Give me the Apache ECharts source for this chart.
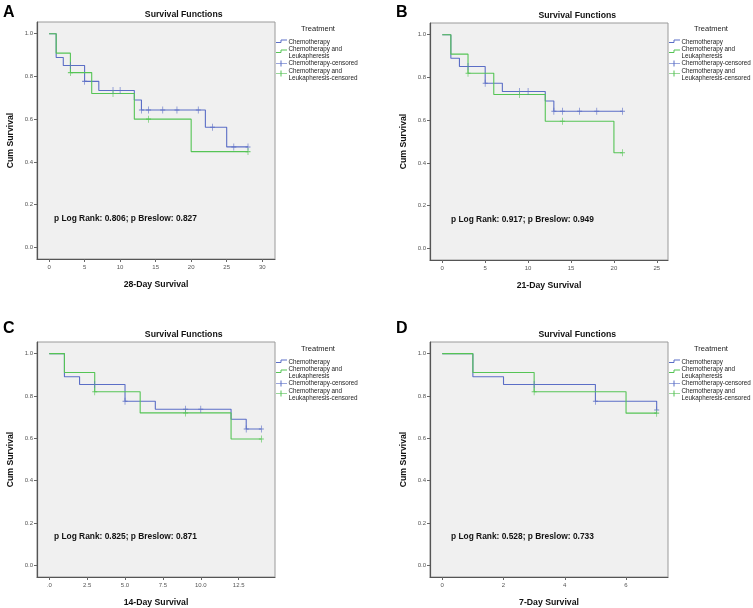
<!DOCTYPE html>
<html><head><meta charset="utf-8">
<script src="https://cdn.jsdelivr.net/npm/echarts@6/dist/echarts.min.js"></script>
<style>html,body{margin:0;padding:0;background:#fff}#c{width:753px;height:608px}</style>
</head><body><div id="c"></div>
<script>
// ---------- DATA ----------
const seriesNames = ['Chemotherapy', 'Chemotherapy and Leukapheresis', 'Chemotherapy-censored', 'Chemotherapy and Leukapheresis-censored'];
const yTicks = [0, 0.2, 0.4, 0.6, 0.8, 1.0];

// Panel A: 28-day
const aChemoT = [0, 1, 2, 5, 7, 12, 13, 22, 25, 28];
const aChemoS = [1, 0.889, 0.851, 0.777, 0.734, 0.690, 0.643, 0.562, 0.470, 0.470];
const aChemoCensT = [3, 5, 9, 10, 13, 14, 16, 18, 21, 23, 26, 28];
const aChemoCensS = [0.851, 0.777, 0.734, 0.734, 0.643, 0.643, 0.643, 0.643, 0.643, 0.562, 0.470, 0.470];
const aLeukT = [0, 1, 3, 6, 12, 20, 28];
const aLeukS = [1, 0.909, 0.818, 0.720, 0.600, 0.448, 0.448];
const aLeukCensT = [3, 9, 14, 28];
const aLeukCensS = [0.818, 0.720, 0.600, 0.448];
const aXTicks = [0, 5, 10, 15, 20, 25, 30];

// Panel B: 21-day
const bChemoT = [0, 1, 2, 5, 7, 12, 13, 21];
const bChemoS = [1, 0.890, 0.851, 0.773, 0.734, 0.690, 0.642, 0.642];
const bChemoCensT = [3, 5, 9, 10, 13, 14, 16, 18, 21];
const bChemoCensS = [0.851, 0.773, 0.734, 0.734, 0.642, 0.642, 0.642, 0.642, 0.642];
const bLeukT = [0, 1, 3, 6, 12, 20, 21];
const bLeukS = [1, 0.909, 0.820, 0.720, 0.595, 0.447, 0.447];
const bLeukCensT = [3, 9, 14, 21];
const bLeukCensS = [0.820, 0.720, 0.595, 0.447];
const bXTicks = [0, 5, 10, 15, 20, 25];

// Panel C: 14-day
const cChemoT = [0, 1, 2, 5, 7, 12, 13, 14];
const cChemoS = [1, 0.891, 0.854, 0.775, 0.737, 0.690, 0.644, 0.644];
const cChemoCensT = [3, 5, 9, 10, 13, 14];
const cChemoCensS = [0.854, 0.775, 0.737, 0.737, 0.644, 0.644];
const cLeukT = [0, 1, 3, 6, 12, 14];
const cLeukS = [1, 0.911, 0.820, 0.720, 0.597, 0.597];
const cLeukCensT = [3, 9, 14];
const cLeukCensS = [0.820, 0.720, 0.597];
const cXTicks = [0, 2.5, 5, 7.5, 10, 12.5];

// Panel D: 7-day
const dChemoT = [0, 1, 2, 5, 7];
const dChemoS = [1, 0.891, 0.854, 0.775, 0.734];
const dChemoCensT = [3, 5, 7];
const dChemoCensS = [0.854, 0.775, 0.734];
const dLeukT = [0, 1, 3, 6, 7];
const dLeukS = [1, 0.911, 0.820, 0.719, 0.719];
const dLeukCensT = [3, 7];
const dLeukCensS = [0.820, 0.719];
const dXTicks = [0, 2, 4, 6];

const letters = ['A', 'B', 'C', 'D'];
const xNames = ['28-Day Survival', '21-Day Survival', '14-Day Survival', '7-Day Survival'];
const pTexts = ['p Log Rank: 0.806; p Breslow: 0.827', 'p Log Rank: 0.917; p Breslow: 0.949',
                'p Log Rank: 0.825; p Breslow: 0.871', 'p Log Rank: 0.528; p Breslow: 0.733'];

// ---------- LAYOUT ----------
const FONT = 'Liberation Sans, Arial, sans-serif';
const BLUE = '#5b6ec6';
const GREEN = '#55c455';
const panels = [
  {grid: {left: 37, top: 22, width: 238, height: 237}, xmin: -1.7, xmax: 31.8, ticks: aXTicks,
   d: [aChemoT, aChemoS, aLeukT, aLeukS, aChemoCensT, aChemoCensS, aLeukCensT, aLeukCensS],
   title: [183.7, 14.7], letter: [3, 12.5], ptext: [54, 218.3], leg: [275, 22], fmt: v => String(v)},
  {grid: {left: 430, top: 23, width: 238, height: 237}, xmin: -1.43, xmax: 26.3, ticks: bXTicks,
   d: [bChemoT, bChemoS, bLeukT, bLeukS, bChemoCensT, bChemoCensS, bLeukCensT, bLeukCensS],
   title: [577.3, 15.7], letter: [396, 12.5], ptext: [451, 219.3], leg: [668, 22], fmt: v => String(v)},
  {grid: {left: 37, top: 342, width: 238, height: 237}, xmin: -0.81, xmax: 14.9, ticks: cXTicks,
   d: [cChemoT, cChemoS, cLeukT, cLeukS, cChemoCensT, cChemoCensS, cLeukCensT, cLeukCensS],
   title: [183.7, 334.7], letter: [3, 328.8], ptext: [54, 536.7], leg: [275, 342], fmt: v => v === 0 ? '.0' : v.toFixed(1)},
  {grid: {left: 430, top: 342, width: 238, height: 237}, xmin: -0.4, xmax: 7.37, ticks: dXTicks,
   d: [dChemoT, dChemoS, dLeukT, dLeukS, dChemoCensT, dChemoCensS, dLeukCensT, dLeukCensS],
   title: [577.3, 334.7], letter: [396, 328.8], ptext: [451, 536.7], leg: [668, 342], fmt: v => String(v)}
];

const zip = (a, b) => a.map((v, i) => [v, b[i]]);
const PLUS = 'path://M8.5,0H11.5V20H8.5Z M0,8.5H20V11.5H0Z';

const grids = [], xAxes = [], yAxes = [], series = [], graphic = [];

function txt(x, y, text, font, align, fill) {
  return {type: 'text', x: x, y: y, silent: true,
    style: {text: text, font: font, fill: fill || '#000', align: align || 'left', verticalAlign: 'middle',
            textAlign: align || 'left', textVerticalAlign: 'middle'}};
}

panels.forEach((p, i) => {
  grids.push(Object.assign({show: true, backgroundColor: '#f0f0f0', borderColor: '#9a9a9a', borderWidth: 1}, p.grid));
  xAxes.push({
    type: 'value', gridIndex: i, min: p.xmin, max: p.xmax,
    name: xNames[i], nameLocation: 'middle', nameGap: 21,
    nameTextStyle: {fontFamily: FONT, fontWeight: 'bold', fontSize: 8.7, color: '#111'},
    axisLine: {show: true, onZero: false, lineStyle: {color: '#555', width: 1.2}},
    axisTick: {show: true, length: 3, customValues: p.ticks, lineStyle: {color: '#666'}},
    axisLabel: {customValues: p.ticks, formatter: p.fmt, fontFamily: FONT, fontSize: 6, color: '#555', margin: 5},
    splitLine: {show: false}
  });
  yAxes.push({
    type: 'value', gridIndex: i, min: -0.055, max: 1.055,
    name: 'Cum Survival', nameLocation: 'middle', nameGap: 22,
    nameTextStyle: {fontFamily: FONT, fontWeight: 'bold', fontSize: 8.7, color: '#111'},
    axisLine: {show: true, onZero: false, lineStyle: {color: '#555', width: 1.2}},
    axisTick: {show: true, length: 3, customValues: yTicks, lineStyle: {color: '#666'}},
    axisLabel: {customValues: yTicks, formatter: v => v.toFixed(1), fontFamily: FONT, fontSize: 6, color: '#555', margin: 4},
    splitLine: {show: false}
  });
  const d = p.d;
  series.push({name: seriesNames[0], type: 'line', step: 'end', xAxisIndex: i, yAxisIndex: i, data: zip(d[0], d[1]),
    showSymbol: false, symbol: 'none', lineStyle: {color: BLUE, width: 1.1}, itemStyle: {color: BLUE}, z: 2, animation: false});
  series.push({name: seriesNames[1], type: 'line', step: 'end', xAxisIndex: i, yAxisIndex: i, data: zip(d[2], d[3]),
    showSymbol: false, symbol: 'none', lineStyle: {color: GREEN, width: 1.1}, itemStyle: {color: GREEN}, z: 3, animation: false});
  series.push({name: seriesNames[2], type: 'scatter', xAxisIndex: i, yAxisIndex: i, data: zip(d[4], d[5]),
    symbol: PLUS, symbolSize: [5, 7], itemStyle: {color: BLUE}, z: 4, animation: false});
  series.push({name: seriesNames[3], type: 'scatter', xAxisIndex: i, yAxisIndex: i, data: zip(d[6], d[7]),
    symbol: PLUS, symbolSize: [5, 7], itemStyle: {color: GREEN}, z: 5, animation: false});

  // Texts
  graphic.push(txt(p.title[0], p.title[1], 'Survival Functions', 'bold 8.7px ' + FONT, 'center', '#111'));
  graphic.push(txt(p.letter[0], p.letter[1], letters[i], 'bold 16px ' + FONT, 'left', '#000'));
  graphic.push(txt(p.ptext[0], p.ptext[1], pTexts[i], 'bold 8.4px ' + FONT, 'left', '#111'));

  // Legend
  const R = p.leg[0], T = p.leg[1];
  const lf = '6.3px ' + FONT;
  graphic.push(txt(R + 43, T + 7.3, 'Treatment', '7.5px ' + FONT, 'center', '#222'));
  graphic.push({type: 'polyline', silent: true, shape: {points: [[R + 1, T + 20.5], [R + 6, T + 20.5], [R + 6, T + 18], [R + 12, T + 18]]},
    style: {stroke: BLUE, fill: null, lineWidth: 1}});
  graphic.push(txt(R + 13.5, T + 20, 'Chemotherapy', lf, 'left', '#222'));
  graphic.push({type: 'polyline', silent: true, shape: {points: [[R + 1, T + 30.5], [R + 6, T + 30.5], [R + 6, T + 28], [R + 12, T + 28]]},
    style: {stroke: GREEN, fill: null, lineWidth: 1}});
  graphic.push(txt(R + 13.5, T + 27, 'Chemotherapy and', lf, 'left', '#222'));
  graphic.push(txt(R + 13.5, T + 34, 'Leukapheresis', lf, 'left', '#222'));
  graphic.push({type: 'line', silent: true, shape: {x1: R + 1, y1: T + 41.5, x2: R + 12, y2: T + 41.5}, style: {stroke: '#9aa6dc', lineWidth: 1}});
  graphic.push({type: 'line', silent: true, shape: {x1: R + 6, y1: T + 38.5, x2: R + 6, y2: T + 44.5}, style: {stroke: BLUE, lineWidth: 1}});
  graphic.push(txt(R + 13.5, T + 41.3, 'Chemotherapy-censored', lf, 'left', '#222'));
  graphic.push({type: 'line', silent: true, shape: {x1: R + 1, y1: T + 51.5, x2: R + 12, y2: T + 51.5}, style: {stroke: '#9ad89a', lineWidth: 1}});
  graphic.push({type: 'line', silent: true, shape: {x1: R + 6, y1: T + 48.5, x2: R + 6, y2: T + 54.5}, style: {stroke: GREEN, lineWidth: 1}});
  graphic.push(txt(R + 13.5, T + 49, 'Chemotherapy and', lf, 'left', '#222'));
  graphic.push(txt(R + 13.5, T + 56, 'Leukapheresis-censored', lf, 'left', '#222'));
});

const chart = echarts.init(document.getElementById('c'), null, {renderer: 'canvas'});
chart.setOption({
  animation: false,
  backgroundColor: '#ffffff',
  grid: grids, xAxis: xAxes, yAxis: yAxes, series: series, graphic: graphic
});
</script></body></html>
